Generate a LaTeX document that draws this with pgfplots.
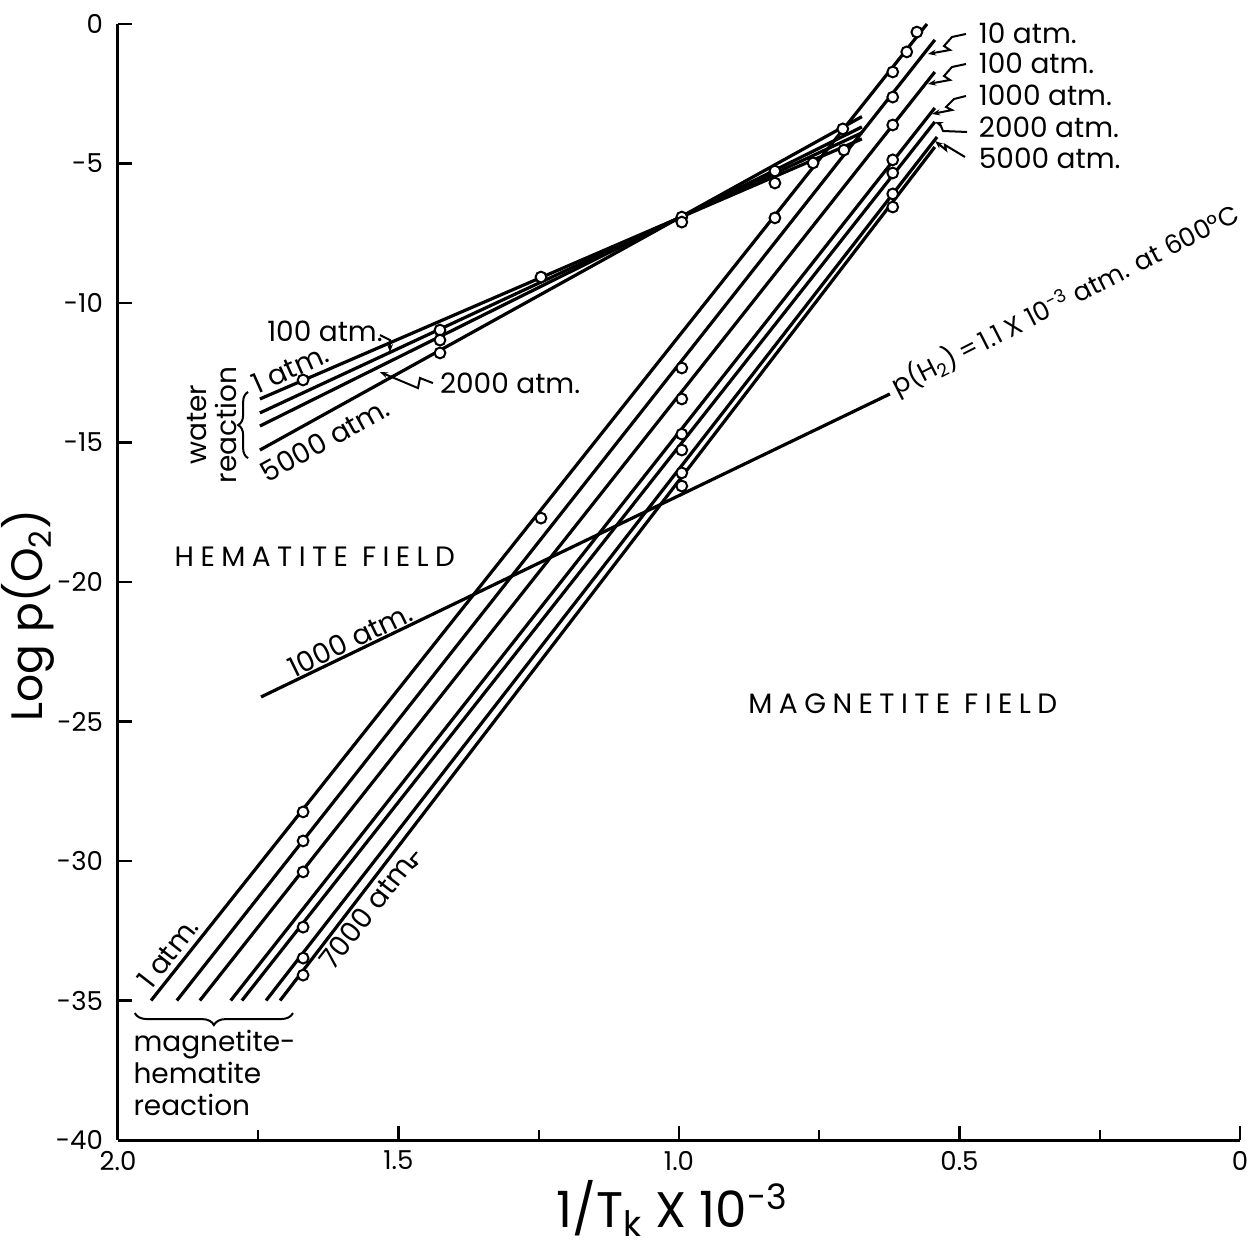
\documentclass[border=0pt]{standalone}
\usepackage{fontspec}
\setmainfont{Poppins}
\newfontfamily\capsfont[LetterSpace=23]{Poppins}
\usepackage{pgfplots}
\pgfplotsset{compat=1.18}
\usetikzlibrary{arrows.meta,decorations.pathreplacing}

\newcommand{\lab}{\fontsize{14}{17}\selectfont}

\begin{document}
\begin{tikzpicture}
\begin{axis}[
    scale only axis, width=561pt, height=558pt,
    xmin=0, xmax=2, ymin=-40, ymax=0,
    x dir=reverse,
    axis lines*=left,
    axis line style={line width=1.5pt},
    tick align=inside,
    major tick length=7pt, minor tick length=5pt,
    every tick/.style={black, line width=1.2pt},
    xtick={0,0.5,1,1.5,2}, xticklabels={0,0.5,1.0,1.5,2.0},
    minor xtick={0.25,0.75,1.25,1.75},
    ytick={-40,-35,...,0}, yticklabels={-40,-35,-30,-25,-20,-15,-10,-5,0},
    ticklabel style={font=\fontsize{13}{15}\selectfont},
    yticklabel style={xshift=-4pt},
    xticklabel style={yshift=-2pt},
    xlabel={1/T\textsubscript{k} X 10\textsuperscript{-3}},
    ylabel={Log p(O\textsubscript{2})},
    xlabel style={font=\fontsize{25}{28}\selectfont, at={(axis description cs:0.494,-0.030)}, anchor=north},
    ylabel style={font=\fontsize{22}{26}\selectfont, at={(axis description cs:-0.05,0.47)}, anchor=south},
    clip=false,
    ln/.style={black, line width=1.6pt, no marks},
]
% magnetite-hematite reaction, 1 to 7000 atm
\addplot[ln] coordinates {(1.941,-35) (0.558,0)};
\addplot[ln] coordinates {(1.895,-35) (0.544,-0.57)};
\addplot[ln] coordinates {(1.854,-35) (0.544,-1.72)};
\addplot[ln] coordinates {(1.799,-35) (0.544,-3.01)};
\addplot[ln] coordinates {(1.779,-35) (0.544,-3.51)};
\addplot[ln] coordinates {(1.736,-35) (0.540,-4.05)};
\addplot[ln] coordinates {(1.711,-35) (0.544,-4.41)};
% water reaction, 1 / 100 / 2000 / 5000 atm
\addplot[ln] coordinates {(1.747,-13.44) (0.674,-4.12)};
\addplot[ln] coordinates {(1.747,-13.94) (0.674,-3.90)};
\addplot[ln] coordinates {(1.747,-14.41) (0.674,-3.69)};
\addplot[ln] coordinates {(1.747,-15.27) (0.674,-3.32)};
% p(H2) line
\addplot[ln] coordinates {(1.745,-24.12) (0.624,-13.26)};
% measured points
\addplot[only marks, mark=*, mark size=2.7pt,
  mark options={fill=white, draw=black, line width=1pt}] coordinates {
  (1.670,-12.76)
  (1.426,-10.97) (1.426,-11.33) (1.426,-11.79)
  (1.246,-9.07) (1.246,-17.71)
  (0.995,-6.92) (0.995,-7.10)
  (0.995,-12.33) (0.995,-13.44) (0.995,-14.70) (0.995,-15.27) (0.995,-16.09) (0.995,-16.56)
  (0.829,-5.27) (0.829,-5.70) (0.829,-6.95)
  (0.761,-4.98)
  (0.708,-3.76) (0.706,-4.52)
  (0.619,-1.72) (0.594,-1.00) (0.576,-0.29)
  (0.619,-2.62) (0.619,-3.62) (0.619,-4.87) (0.619,-5.34) (0.619,-6.09) (0.619,-6.56)
  (1.670,-28.24) (1.670,-29.28) (1.670,-30.39) (1.670,-32.37) (1.670,-33.48) (1.670,-34.09)
};

% field names
\node[font=\capsfont\fontsize{14}{17}\selectfont] at (axis cs:1.649,-19.10) {HEMATITE FIELD};
\node[font=\capsfont\fontsize{14}{17}\selectfont] at (axis cs:0.601,-24.37) {MAGNETITE FIELD};

% top right labels
\node[font=\lab, anchor=west] at (axis cs:0.478,-0.32) {10 atm.};
\node[font=\lab, anchor=west] at (axis cs:0.478,-1.40) {100 atm.};
\node[font=\lab, anchor=west] at (axis cs:0.478,-2.54) {1000 atm.};
\node[font=\lab, anchor=west] at (axis cs:0.478,-3.69) {2000 atm.};
\node[font=\lab, anchor=west] at (axis cs:0.478,-4.80) {5000 atm.};
\begin{scope}[line width=1pt, -{Stealth[length=4pt,width=3pt]}]
\draw (axis cs:0.4884,-0.358) -- ++(-7pt,-1.5pt) -- ++(-4pt,-4.5pt) -- ++(3pt,-2pt) -- ++(-11pt,-2pt);
\draw (axis cs:0.4884,-1.434) -- ++(-7pt,-1.5pt) -- ++(-4pt,-4.5pt) -- ++(3pt,-2pt) -- ++(-11pt,-2pt);
\draw (axis cs:0.4884,-2.581) -- ++(-6pt,-1.5pt) -- ++(-4pt,-4pt) -- ++(3pt,-1.5pt) -- ++(-10pt,-2pt);
\draw (axis cs:0.4866,-3.871) -- ++(-12pt,0.5pt) -- ++(-1.5pt,3.5pt) -- ++(-2.5pt,1pt);
\draw (axis cs:0.4902,-4.767) -- ++(-10pt,6pt) -- ++(0.5pt,-2.5pt) -- ++(-5.5pt,4.5pt);
\end{scope}

% water reaction labels
\node[font=\lab] at (axis cs:1.631,-11.0) {100 atm.};
\node[font=\lab, rotate=24] at (axis cs:1.693,-12.35) {1 atm.};
\node[font=\lab, anchor=west] at (axis cs:1.4385,-12.87) {2000 atm.};
\node[font=\lab, rotate=29] at (axis cs:1.631,-14.91) {5000 atm.};
\begin{scope}[line width=1pt, -{Stealth[length=4pt,width=3pt]}]
\draw (axis cs:1.533,-11.15) -- ++(5pt,-2.5pt) -- ++(0pt,-6pt);
\draw (axis cs:1.4385,-12.87) -- ++(-6.5pt,2.5pt) -- ++(-1pt,-5pt) -- ++(-19pt,8pt);
\end{scope}
\node[font=\lab, rotate=90, align=center, inner sep=0pt] at (axis cs:1.832,-14.37) {water\\[-2pt]reaction};
\draw[line width=1pt, decorate, decoration={brace, amplitude=5pt}]
  (axis cs:1.768,-15.56) -- (axis cs:1.768,-13.19);

% magnetite-hematite labels
\node[font=\lab, rotate=52] at (axis cs:1.911,-33.30) {1 atm.};
\node[font=\lab, rotate=52] at (axis cs:1.554,-31.76) {7000 atm.};
\draw[line width=1pt] (axis cs:1.476,-30.25) -- ++(2.5pt,2pt) -- ++(-3pt,2.5pt) -- ++(3pt,3.5pt);
\draw[line width=1pt, decorate, decoration={brace, amplitude=6pt}]
  (axis cs:1.688,-35.45) -- (axis cs:1.970,-35.45);
\node[font=\lab, anchor=north west, align=left, inner sep=0pt] at (axis cs:1.973,-36.06)
  {magnetite-\\[-1pt]hematite\\[-1pt]reaction};

% H2 line labels
\node[font=\lab, rotate=26] at (axis cs:1.586,-22.08) {1000 atm.};
\node[font=\fontsize{13}{15}\selectfont, rotate=27, anchor=base west, inner sep=0pt]
  at (axis cs:0.6114,-13.33) {p(H\textsubscript{2})\,=\,1.1 X 10\textsuperscript{-3} atm. at 600°C};

% page frame of the reference figure
\coordinate (bbtl) at (axis cs:2.2103,0.86);
\coordinate (bbbr) at (axis cs:-0.0125,-43.87);
\end{axis}
\pgfresetboundingbox
\path[use as bounding box] (bbtl) rectangle (bbbr);
\end{tikzpicture}
\end{document}
